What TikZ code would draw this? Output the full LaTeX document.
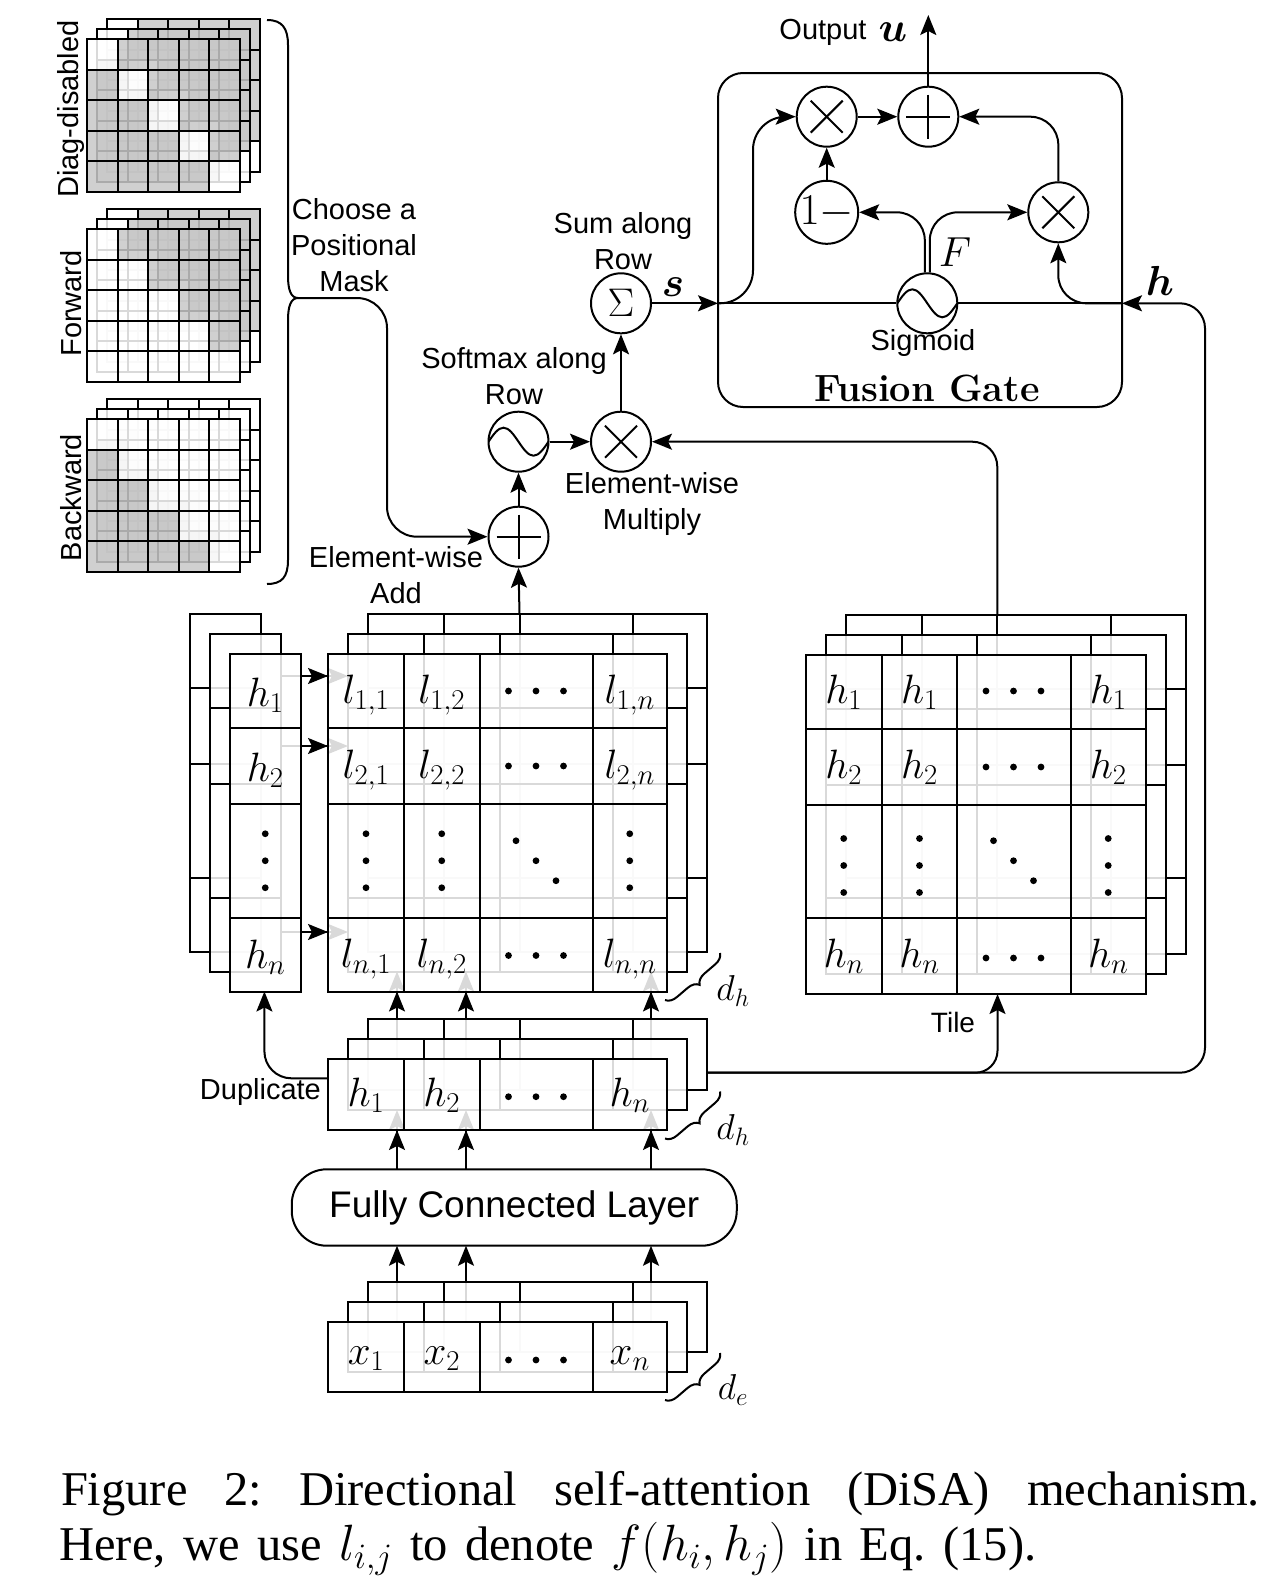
\RequirePackage{fix-cm}
\documentclass[tikz,border=0pt]{standalone}
\usepackage{bm}
\usepackage{fontspec}
\usetikzlibrary{arrows.meta,decorations.pathreplacing}
\newfontfamily\arial{Liberation Sans}
\newfontfamily\capfont{Liberation Serif}
\definecolor{maskgray}{RGB}{200,200,200}
\newcommand{\gridlayer}[8]{%
  \begin{scope}[shift={(#1,#2)}]
    \filldraw[fill=white, fill opacity=0.85] (#3,#4) rectangle (#5,#6);
    \foreach \xx in {#7}{\draw (\xx,#4) -- (\xx,#6);}
    \foreach \yy in {#8}{\draw (#3,\yy) -- (#5,\yy);}
  \end{scope}}
\newcommand{\masklayer}[3]{%
  \foreach \i in {0,...,4}{\foreach \j in {0,...,4}{%
    \pgfmathtruncatemacro{\g}{#3}%
    \ifnum\g=1\relax
      \filldraw[fill=maskgray, fill opacity=0.85] ({#1+\j*30.6},{#2+\i*30.6}) rectangle ++(30.6,30.6);
    \else
      \filldraw[fill=white, fill opacity=0.85] ({#1+\j*30.6},{#2+\i*30.6}) rectangle ++(30.6,30.6);
    \fi}}}
\newcommand{\hdotsat}[2]{\fill ({#1-27.5},#2) circle[radius=3.4] ({#1},#2) circle[radius=3.4] ({#1+27.5},#2) circle[radius=3.4];}
\newcommand{\vdotsat}[2]{\fill (#1,{#2-27}) circle[radius=3.4] (#1,#2) circle[radius=3.4] (#1,{#2+27}) circle[radius=3.4];}
\newcommand{\ddotsat}[2]{\fill ({#1-20},{#2-20}) circle[radius=3.4] (#1,#2) circle[radius=3.4] ({#1+20},{#2+20}) circle[radius=3.4];}
\newcommand{\capmath}[1]{{\fontsize{51}{56}\selectfont$#1$}}
\begin{document}
\begin{tikzpicture}[x=1pt, y=-1pt, line width=2pt,
  arr/.style={-{Stealth[length=20pt,width=16pt,inset=4pt]}},
  circ/.style={circle, draw, minimum size=60pt, inner sep=0pt, fill=white},
  plusop/.style={circ, path picture={
     \draw (path picture bounding box.center) ++(-22,0) -- ++(44,0);
     \draw (path picture bounding box.center) ++(0,-22) -- ++(0,44);}},
  timesop/.style={circ, path picture={
     \draw (path picture bounding box.center) ++(-16,-16) -- ++(32,32);
     \draw (path picture bounding box.center) ++(-16,16) -- ++(32,-32);}},
  waveop/.style={circ, path picture={
     \draw (path picture bounding box.center) ++(-30,0) sin ++(15,-14) cos ++(15,14) sin ++(15,14) cos ++(15,-14);}},
  lab/.style={font=\arial\fontsize{29}{36}\selectfont, align=center, inner sep=0pt},
  cellm/.style={font=\fontsize{41}{48}\selectfont, inner sep=0pt},
  bigm/.style={font=\fontsize{42}{48}\selectfont, inner sep=0pt},
  dlab/.style={font=\fontsize{36}{40}\selectfont, inner sep=0pt},
  dbrace/.style={decorate, decoration={brace, amplitude=11pt}},
  capt/.style={anchor=base west, inner sep=0pt, font=\capfont\fontsize{48.5}{56}\selectfont\frenchspacing},
]
\fill[white] (0,0) rectangle (1278,1590);
\path[use as bounding box] (0,0) rectangle (1278,1590);

%% ---------- positional masks ----------
\masklayer{107}{19}{\i!=\j}
\masklayer{97}{29}{\i!=\j}
\masklayer{87}{39}{\i!=\j}
\masklayer{107}{209}{\j>\i}
\masklayer{97}{219}{\j>\i}
\masklayer{87}{229}{\j>\i}
\masklayer{107}{399}{\j<\i}
\masklayer{97}{409}{\j<\i}
\masklayer{87}{419}{\j<\i}
\node[lab, rotate=90] (ldiag) at (71,109) {Diag-disabled};
\node[lab, rotate=90] (lfwd) at (71,303.4) {Forward};
\node[lab, rotate=90] (lbwd) at (71,497.6) {Backward};
\draw (267,20) .. controls (282,20) and (288,28) .. (288,45) -- (288,276)
      .. controls (288,290) and (291,298) .. (298,298)
      .. controls (291,298) and (288,306) .. (288,320) -- (288,560)
      .. controls (288,577) and (282,584) .. (267,584);
\coordinate (btip) at (298,298);
\node[lab] (lchoose) at (354,245) {Choose a\\Positional\\Mask};

%% ---------- operator circles ----------
\node[plusop] (add) at (518.5,536.7) {};
\node[waveop] (soft) at (518.5,441.7) {};
\node[timesop] (mul) at (621,441.7) {};
\node[circ, font=\fontsize{40}{44}\selectfont] (sum) at (621,303.3) {$\Sigma$};
\node[timesop] (m1) at (826.7,116.7) {};
\node[plusop] (p1) at (928.3,116.7) {};
\node[circ, font=\fontsize{44}{48}\selectfont] (one) at (826.7,212.3) {$1{-}$};
\node[timesop] (m2) at (1058.3,212.3) {};
\node[waveop] (sig) at (927.3,303.3) {};

%% labels
\node[lab] (lsum) at (623,241.5) {Sum along\\Row};
\node[lab] (lsoft) at (514,376) {Softmax along\\Row};
\node[lab] (lmul) at (652,504) {Element-wise\\Multiply};
\node[lab] (ladd) at (396,575) {Element-wise\\Add};
\node[lab] (lsig) at (923,343) {Sigmoid};
\node[font=\bfseries\fontsize{38}{44}\selectfont, inner sep=0pt] (lfg) at (927,388) {Fusion Gate};
\node[lab] (lout) at (823,32) {Output};
\node[bigm] (lu) at (893,32) {$\bm{u}$};
\node[bigm] (ls) at (673,287) {$\bm{s}$};
\node[bigm] (lh) at (1160,281) {$\bm{h}$};
\node[bigm] (lF) at (955,252) {$F$};

%% fusion gate box
\draw[rounded corners=25] (718,73) rectangle (1122,407);
\coordinate (sin) at (718,303.3);
\coordinate (hin) at (1122,303.3);
\coordinate (outtip) at (928.3,15);

%% connectors: attention part
\draw[arr, rounded corners=30] (btip) -- (387,298) -- (387,536.7) -- (add.west);
\draw[arr] (add.north) -- (soft.south);
\draw[arr] (soft.east) -- (mul.west);
\draw[arr] (mul.north) -- (sum.south);
\draw[arr] (sum.east) -- (sin);
\draw[arr, rounded corners=25] (997.3,615) -- (997.3,441.7) -- (mul.east);
\draw[arr] (519.5,613.5) -- (add.south);

%% connectors: fusion gate
\draw (sin) -- (sig.west);
\draw (hin) -- (sig.east);
\draw[arr, rounded corners=33] (sin) -- (753,303.3) -- (753,116.7) -- (m1.west);
\draw[arr] (m1.east) -- (p1.west);
\draw[arr] (one.north) -- (m1.south);
\draw[arr, rounded corners=28] ([xshift=-2.5pt]sig.north) -- (924.8,212.3) -- (one.east);
\draw[arr, rounded corners=28] ([xshift=2.5pt]sig.north) -- (929.8,212.3) -- (m2.west);
\draw[arr, rounded corners=28] (m2.north) -- (1058.3,116.7) -- (p1.east);
\draw[arr, rounded corners=28] (hin) -- (1058.3,303.3) -- (m2.south);
\draw[arr] (p1.north) -- (outtip);

%% ---------- connectors seen through layers (drawn first) ----------
\foreach \yy in {676,746,932}{\draw[arr] (281,\yy) -- (348,\yy);}
\foreach \xx in {397,466,651}{
  \draw[arr] (\xx,1059.3) -- (\xx,971.5);
  \draw[arr] (\xx,1169.3) -- (\xx,1110);
  \draw (\xx,1321.7) -- (\xx,1281.7);
}

%% ---------- stacks ----------
% h column
\gridlayer{-40}{-40}{230}{653.5}{300.5}{991.5}{230}{728,804,917.5}
\gridlayer{-20}{-20}{230}{653.5}{300.5}{991.5}{230}{728,804,917.5}
\gridlayer{0}{0}{230}{653.5}{300.5}{991.5}{230}{728,804,917.5}
% l matrix
\gridlayer{40}{-40}{328}{653.5}{667}{991.5}{404,479.5,592.5}{728,804,917.5}
\gridlayer{20}{-20}{328}{653.5}{667}{991.5}{404,479.5,592.5}{728,804,917.5}
\gridlayer{0}{0}{328}{653.5}{667}{991.5}{404,479.5,592.5}{728,804,917.5}
% tiled h matrix
\gridlayer{40}{-40}{805.7}{655}{1145.7}{994}{881.7,957.3,1070.7}{729.3,805,918.3}
\gridlayer{20}{-20}{805.7}{655}{1145.7}{994}{881.7,957.3,1070.7}{729.3,805,918.3}
\gridlayer{0}{0}{805.7}{655}{1145.7}{994}{881.7,957.3,1070.7}{729.3,805,918.3}
% h row
\gridlayer{40}{-40}{328}{1059.3}{667}{1130}{404,479.5,592.5}{1059.3}
\gridlayer{20}{-20}{328}{1059.3}{667}{1130}{404,479.5,592.5}{1059.3}
\gridlayer{0}{0}{328}{1059.3}{667}{1130}{404,479.5,592.5}{1059.3}
% x row
\gridlayer{40}{-40}{328}{1321.7}{667}{1391.7}{404,479.5,592.5}{1321.7}
\gridlayer{20}{-20}{328}{1321.7}{667}{1391.7}{404,479.5,592.5}{1321.7}
\gridlayer{0}{0}{328}{1321.7}{667}{1391.7}{404,479.5,592.5}{1321.7}

%% ---------- connectors in front ----------
\foreach \yy in {676,746,932}{\draw[arr] (300.5,\yy) -- (328,\yy);}
\foreach \xx in {397,466,651}{
  \draw[arr] (\xx,1019.3) -- (\xx,991.5);
  \draw[arr] (\xx,1169.3) -- (\xx,1130);
  \draw[arr] (\xx,1281.7) -- (\xx,1245.7);
}
\coordinate (hrowL) at (328,1078.3);
\coordinate (hrowR) at (707,1072.7);
\coordinate (hcolS) at (264.4,991.5);
\coordinate (tileS) at (997.5,994);
\draw[arr, rounded corners=27] (hrowL) -- (264.4,1078.3) -- (hcolS);
\draw[arr, rounded corners=22] (hrowR) -- (997.5,1072.7) -- (tileS);
\draw[arr, rounded corners=25] (hrowR) -- (1205,1072.7) -- (1205,303.3) -- (hin);
\node[lab, font=\arial\fontsize{28}{34}\selectfont] (ltile) at (953,1022) {Tile};
\node[lab] (ldup) at (260.4,1091.7) {Duplicate};

%% fully connected layer
\node[draw, rounded corners=35, minimum width=445pt, minimum height=76.4pt, inner sep=0pt,
      font=\arial\fontsize{37}{44}\selectfont] (fc) at (514.25,1207.5) {Fully Connected Layer};

%% ---------- cell contents ----------
% h column
\node[cellm] (hc1) at (265.25,695) {$h_1$};
\node[cellm] (hc2) at (265.25,770) {$h_2$};
\vdotsat{265.25}{860.75}
\node[cellm] (hcn) at (265.25,957) {$h_n$};
% l matrix
\node[cellm] (l11) at (366,695) {$l_{1,1}$};
\node[cellm] (l12) at (441.75,695) {$l_{1,2}$};
\hdotsat{536}{691}
\node[cellm] (l1n) at (629.75,695) {$l_{1,n}$};
\node[cellm] (l21) at (366,770) {$l_{2,1}$};
\node[cellm] (l22) at (441.75,770) {$l_{2,2}$};
\hdotsat{536}{766}
\node[cellm] (l2n) at (629.75,770) {$l_{2,n}$};
\vdotsat{366}{860.75}
\vdotsat{441.75}{860.75}
\ddotsat{536}{860.75}
\vdotsat{629.75}{860.75}
\node[cellm] (ln1) at (366,959) {$l_{n,1}$};
\node[cellm] (ln2) at (441.75,959) {$l_{n,2}$};
\hdotsat{536}{955.5}
\node[cellm] (lnn) at (629.75,959) {$l_{n,n}$};
% tile matrix
\node[cellm] (t11) at (843.7,692) {$h_1$};
\node[cellm] (t12) at (919.5,692) {$h_1$};
\hdotsat{1013.5}{691}
\node[cellm] (t1n) at (1108.2,692) {$h_1$};
\node[cellm] (t21) at (843.7,767) {$h_2$};
\node[cellm] (t22) at (919.5,767) {$h_2$};
\hdotsat{1013.5}{767}
\node[cellm] (t2n) at (1108.2,767) {$h_2$};
\vdotsat{843.7}{865.5}
\vdotsat{919.5}{865.5}
\ddotsat{1013.5}{860.7}
\vdotsat{1108.2}{865.5}
\node[cellm] (tn1) at (843.7,956) {$h_n$};
\node[cellm] (tn2) at (919.5,956) {$h_n$};
\hdotsat{1013.5}{958}
\node[cellm] (tnn) at (1108.2,956) {$h_n$};
% h row
\node[cellm] (hr1) at (366,1095) {$h_1$};
\node[cellm] (hr2) at (441.75,1095) {$h_2$};
\hdotsat{536}{1096.7}
\node[cellm] (hrn) at (629.75,1095) {$h_n$};
% x row
\node[cellm] (xr1) at (366,1359) {$x_1$};
\node[cellm] (xr2) at (441.75,1359) {$x_2$};
\hdotsat{536}{1360}
\node[cellm] (xrn) at (629.75,1359) {$x_n$};

%% dimension braces
\draw[dbrace] (720,953) -- (665,1000);
\node[dlab] (dh1) at (733,991) {$d_h$};
\draw[dbrace] (720,1091.5) -- (665,1138.5);
\node[dlab] (dh2) at (733,1130) {$d_h$};
\draw[dbrace] (720,1353) -- (665,1400);
\node[dlab] (de) at (733,1390) {$d_e$};

%% ---------- caption ----------
\node[capt] (cap1) at (60,1505)
  {\makebox[1199pt][s]{Figure 2: Directional self-attention (DiSA) mechanism.}};
\node[capt] (cap2) at (58.3,1560.7)
  {\makebox[977pt][s]{Here, we use \capmath{l_{i,j}} to denote \capmath{f(h_i,h_j)} in Eq. (15).}};
\end{tikzpicture}
\end{document}
